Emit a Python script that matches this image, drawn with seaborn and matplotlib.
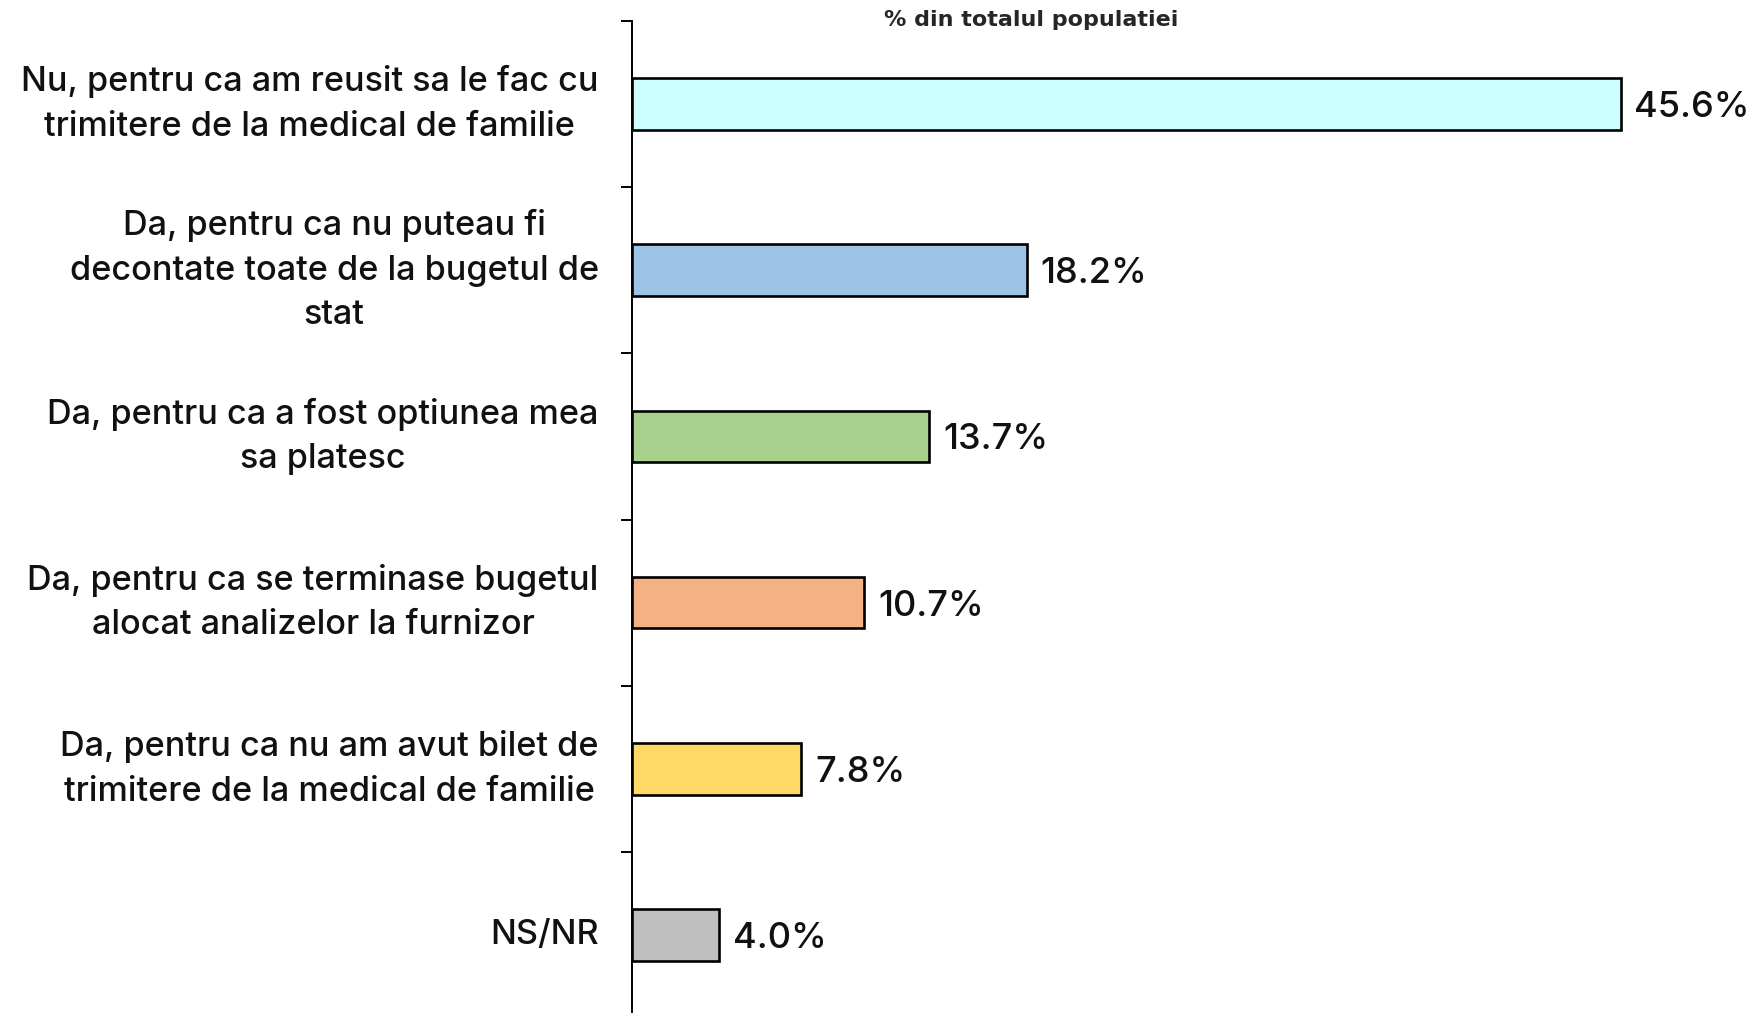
import numpy as np
import pandas as pd
import seaborn as sns
import matplotlib.pyplot as plt

# date
categories = [
    "Nu, pentru ca am reusit sa le fac cu\ntrimitere de la medical de familie",
    "Da, pentru ca nu puteau fi\ndecontate toate de la bugetul de\nstat",
    "Da, pentru ca a fost optiunea mea\nsa platesc",
    "Da, pentru ca se terminase bugetul\nalocat analizelor la furnizor",
    "Da, pentru ca nu am avut bilet de\ntrimitere de la medical de familie",
    "NS/NR",
]
values = [45.6, 18.2, 13.7, 10.7, 7.8, 4.0]
colors = ["#CCFFFF", "#9DC3E6", "#A9D18E", "#F4B183", "#FFD966", "#BFBFBF"]
title = "% din totalul populatiei"

df = pd.DataFrame({"cat": categories, "val": values})

sns.set_style("white")
plt.rcParams["font.family"] = ["Inter", "DejaVu Sans"]

fig = plt.figure(figsize=(17.55, 10.13), dpi=100)
ax = fig.add_axes([632 / 1755, -5 / 1013, 1 - 632 / 1755, 997 / 1013])

sns.barplot(data=df, x="val", y="cat", hue="cat", palette=colors, legend=False,
            orient="h", width=0.31, saturation=1, edgecolor="black",
            linewidth=1.9, ax=ax)

for c in ax.containers:
    labels = ax.bar_label(c, fmt="%.1f%%", padding=10, fontsize=26,
                          fontweight="medium", color="#111111")
    for t in labels:
        t.set_va("center_baseline")

ax.set_xlim(0, 51.8)
ax.set_ylim(5.5, -0.5)
ax.set_xlabel("")
ax.set_ylabel("")
ax.set_xticks([])

# etichete centrate, tick-uri la granitele categoriilor
ax.set_yticks(range(len(categories)))
ax.set_yticklabels(categories, fontsize=24.6, fontweight="medium", va="center",
                   multialignment="center", linespacing=1.5, color="#111111")
ax.set_yticks(np.arange(-0.5, len(categories), 1), minor=True)
ax.tick_params(axis="y", which="major", left=True, length=0, pad=24)
ax.tick_params(axis="y", which="minor", left=True, length=8, width=1.4, color="black")

sns.despine(ax=ax, top=True, right=True, bottom=True)
ax.spines["left"].set_linewidth(1.4)
ax.spines["left"].set_color("black")

fig.text(1031 / 1755, 1 - 20 / 1013, title, ha="center", va="center",
         fontsize=16, fontweight="heavy", family=["DejaVu Sans"])

fig.savefig("out.png", dpi=100)
